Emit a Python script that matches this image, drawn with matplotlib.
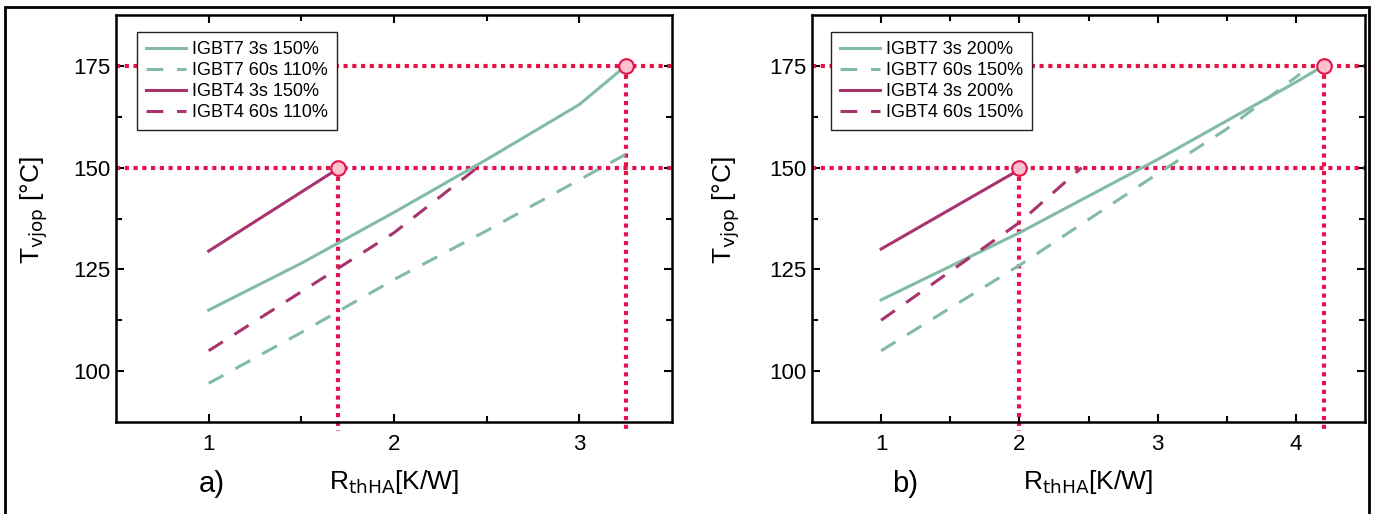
import matplotlib
matplotlib.use('Agg')
import matplotlib.pyplot as plt
from matplotlib.patches import Rectangle

plt.rcParams['font.family'] = ['Liberation Sans', 'DejaVu Sans']

# panel a) data
a_x7_3s = [1, 1.5, 2, 2.5, 3, 3.25]
a_y7_3s = [115, 126.5, 139, 152, 165.5, 175]
a_x7_60s = [1, 1.5, 2, 2.5, 3, 3.3]
a_y7_60s = [97, 109.5, 122.5, 134.5, 147, 154.5]
a_x4_3s = [1, 1.7]
a_y4_3s = [129.5, 149.8]
a_x4_60s = [1, 1.5, 2, 2.45]
a_y4_60s = [105, 119.5, 134, 150]
a_labels = ['IGBT7 3s 150%', 'IGBT7 60s 110%', 'IGBT4 3s 150%', 'IGBT4 60s 110%']
a_points = [(1.7, 150), (3.25, 175)]

# panel b) data
b_x7_3s = [1, 2, 3, 4, 4.2]
b_y7_3s = [117.5, 134, 152, 171, 175]
b_x7_60s = [1, 2, 3, 3.5, 4.03]
b_y7_60s = [105, 126, 148.5, 159.5, 173]
b_x4_3s = [1, 2]
b_y4_3s = [130, 149.5]
b_x4_60s = [1, 2, 2.45]
b_y4_60s = [112.5, 136.5, 150]
b_labels = ['IGBT7 3s 200%', 'IGBT7 60s 150%', 'IGBT4 3s 200%', 'IGBT4 60s 150%']
b_points = [(2, 150), (4.2, 175)]

green = '#82bba6'
purple = '#a8336f'
red = '#e5134a'
pink = '#fcc3cf'

fig = plt.figure(figsize=(13.75, 5.14), dpi=100)
W, H = 1375, 514


def panel(rect, xlim, xticks, series, labels, points, tag, tag_x, leg_x, ylab_x):
    ax = fig.add_axes(rect)
    x7, y7, x7b, y7b, x4, y4, x4b, y4b = series
    h1, = ax.plot(x7, y7, color=green, lw=2.2, zorder=3)
    h2, = ax.plot(x7b, y7b, color=green, lw=2.2, dashes=(5.5, 4.5), zorder=3)
    h3, = ax.plot(x4, y4, color=purple, lw=2.2, zorder=3)
    h4, = ax.plot(x4b, y4b, color=purple, lw=2.2, dashes=(5.5, 4.5), zorder=3)

    for px, py in points:
        ax.plot([xlim[0], xlim[1]], [py, py], color=red, lw=3, dashes=(1, 1.1), zorder=2)
        ax.plot([px, px], [py, 85.4], color=red, lw=3, dashes=(1, 1.1), zorder=2, clip_on=False)
        ax.plot(px, py, 'o', ms=10.5, mfc=pink, mec=red, mew=1.5, zorder=5)

    ax.set_xlim(*xlim)
    ax.set_ylim(87.5, 187.5)
    ax.set_xticks(xticks)
    ax.set_xticks([t + 0.5 for t in xticks[:-1]], minor=True)
    ax.set_yticks([100, 125, 150, 175])
    ax.set_yticks([112.5, 137.5, 162.5], minor=True)
    ax.tick_params(which='both', direction='in', top=True, right=True, width=1.5, labelsize=16)
    ax.tick_params(which='major', length=6)
    ax.tick_params(which='minor', length=4)
    ax.tick_params(axis='x', pad=9)
    ax.tick_params(axis='y', pad=4)
    for s in ax.spines.values():
        s.set_linewidth(1.8)

    leg = ax.legend([h1, h2, h3, h4], labels, loc='upper left', bbox_to_anchor=(leg_x, 0.958),
                    borderaxespad=0, fontsize=13, handlelength=2.2, labelspacing=0.22,
                    handletextpad=0.35, borderpad=0.5, fancybox=False, framealpha=1)
    leg.get_frame().set_edgecolor('#222222')
    leg.get_frame().set_linewidth(1.0)
    leg.set_zorder(10)

    ax.set_ylabel(r'T$_{\mathrm{vjop}}$ [°C]', fontsize=19)
    ax.yaxis.set_label_coords(ylab_x, 0.52)
    ax.set_xlabel(r'R$_{\mathrm{thHA}}$[K/W]', fontsize=19, labelpad=9)
    fig.text(tag_x / W, 1 - 492 / H, tag, fontsize=21, ha='left', va='baseline')
    return ax


panel([116 / W, 92 / H, 556 / W, 407 / H], (0.5, 3.5), [1, 2, 3],
      [a_x7_3s, a_y7_3s, a_x7_60s, a_y7_60s, a_x4_3s, a_y4_3s, a_x4_60s, a_y4_60s],
      a_labels, a_points, 'a)', 199, 0.038, -0.119)
panel([812 / W, 92 / H, 553 / W, 407 / H], (0.5, 4.5), [1, 2, 3, 4],
      [b_x7_3s, b_y7_3s, b_x7_60s, b_y7_60s, b_x4_3s, b_y4_3s, b_x4_60s, b_y4_60s],
      b_labels, b_points, 'b)', 892, 0.034, -0.127)

# outer frame
fig.patches.append(Rectangle((5 / W, -0.05), 1364 / W, 1.05 - 7 / H, transform=fig.transFigure,
                             fill=False, edgecolor='black', lw=2))

fig.savefig('out.png', dpi=100)
